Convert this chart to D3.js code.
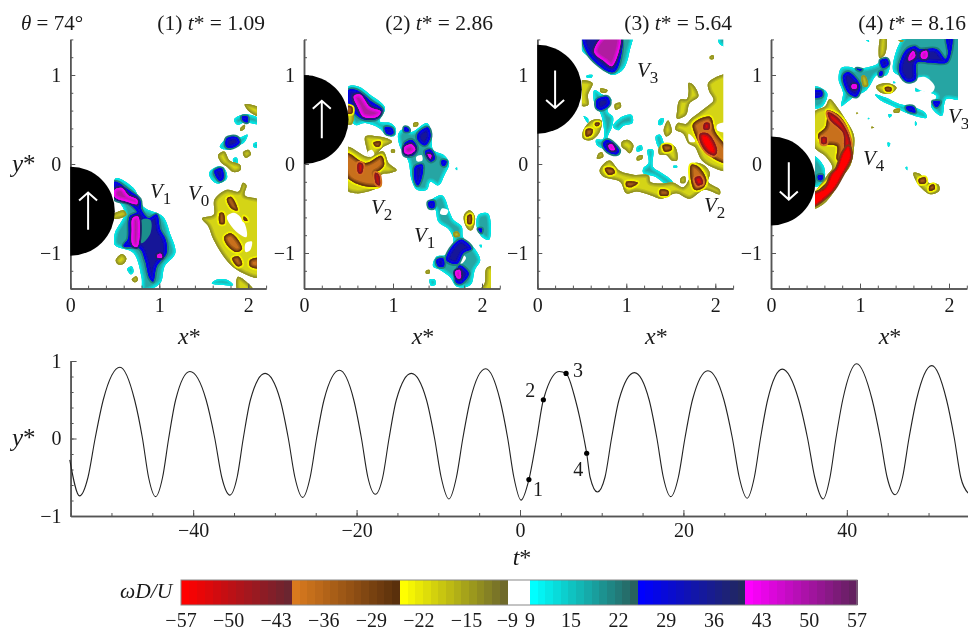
<!DOCTYPE html>
<html>
<head>
<meta charset="utf-8">
<script src="https://cdn.jsdelivr.net/npm/d3@7"></script>
<style>
  html, body { margin: 0; background: #fff; }
  svg { display: block; }
  text { font-family: "Liberation Serif", serif; fill: #1a1a1a; }
  .domain { stroke: #555; stroke-width: 1.5; }
  .tick line { stroke: #555; stroke-width: 1; }
</style>
</head>
<body>
<svg id="chart" width="968" height="630"></svg>
<script>
// y*(t*) trace
const traceT = [-55.1,-53.9,-52.87,-52.0,-51.0,-48.96,-47.17,-46.2,-45.46,-44.6,-43.74,-43.0,-42.14,-40.4,-38.42,-37.35,-36.5,-35.5,-34.62,-33.87,-32.99,-31.2,-29.35,-28.35,-27.55,-26.6,-25.68,-24.9,-23.98,-22.1,-20.35,-19.4,-18.62,-17.7,-16.8,-16.03,-15.13,-13.3,-11.45,-10.45,-9.65,-8.7,-7.78,-7.0,-6.08,-4.2,-2.45,-1.5,-0.75,0.12,1.09,2.04,2.86,4.8,5.64,6.78,7.83,8.16,8.58,9.47,10.4,11.2,12.12,14.0,15.8,16.76,17.54,18.45,19.38,20.18,21.11,23.0,24.95,26.0,26.83,27.8,28.68,29.43,30.31,32.1,34.1,35.2,36.07,37.1,37.94,38.66,39.5,41.2,43.1,44.1,44.93,45.9,46.82,47.6,48.52,50.4,52.2,53.16,53.94,54.85];
const traceY = [-0.275,-0.74,-0.5,0,0.5,0.92,0.5,0,-0.5,-0.75,-0.5,0,0.5,0.865,0.5,0,-0.5,-0.73,-0.5,0,0.5,0.84,0.5,0,-0.5,-0.76,-0.5,0,0.5,0.88,0.5,0,-0.5,-0.72,-0.5,0,0.5,0.84,0.5,0,-0.5,-0.78,-0.5,0,0.5,0.90,0.5,0,-0.5,-0.795,-0.53,0,0.5,0.865,0.84,0.5,0,-0.19,-0.5,-0.69,-0.5,0,0.5,0.85,0.5,0,-0.5,-0.75,-0.5,0,0.5,0.875,0.5,0,-0.5,-0.77,-0.5,0,0.5,0.895,0.5,0,-0.5,-0.78,-0.5,0,0.5,0.965,0.5,0,-0.5,-0.725,-0.5,0,0.5,0.94,0.5,0,-0.5,-0.705];

const markT = [1.09, 2.86, 5.64, 8.16];
const markY = [-0.53, 0.5, 0.84, -0.19];
const markNames = ['1', '2', '3', '4'];
const markDirection = [1, 1, -1, -1];

const cbTicksNeg = [-57, -50, -43, -36, -29, -22, -15, -9];
const cbTicksPos = [9, 15, 22, 29, 36, 43, 50, 57];
const cbBandEdges = [-57, -40.7, -24.8, -9, 9, 24.8, 40.6, 57];
const cbBandNames = ['red', 'brown', 'olive', 'white', 'cyan', 'blue', 'magenta'];

// regions are closed outlines in (x*, y*), one array per colour band
const p1Cyan = [
  [[.51,-.16],[.71,-.27],[.82,-.48],[1.04,-.59],[1.12,-.78],[1.18,-1.0],[1.06,-1.15],[1.01,-1.34],[.82,-1.42],[.80,-1.27],[.71,-1.0],[.50,-.91],[.50,-.78],[.61,-.55],[.50,-.33]],
  [[.64,-1.18],[.69,-1.15],[.71,-1.21],[.68,-1.24]],
  [[1.84,.50],[1.96,.56],[2.12,.51],[2.12,.45],[1.96,.47],[1.88,.44]],
  [[1.68,.19],[1.79,.31],[1.91,.30],[1.99,.33],[1.96,.25],[1.87,.20],[1.76,.16]],
  [[2.06,.23],[2.12,.24],[2.12,.18],[2.06,.19]],
  [[1.83,.06],[1.87,.07],[1.88,.01],[1.84,0]],
  [[1.56,-.10],[1.65,-.03],[1.73,-.05],[1.76,-.16],[1.66,-.22],[1.59,-.18]],
  [[1.59,-1.34],[1.64,-1.30],[1.76,-1.30],[1.83,-1.36],[1.70,-1.36]]
];
const p1Blue = [
  [[.50,-.20],[.65,-.29],[.78,-.40],[.80,-.52],[.88,-.61],[.97,-.57],[1.01,-.74],[1.07,-.85],[1.08,-1.0],[.97,-1.15],[.93,-1.32],[.89,-1.28],[.84,-1.08],[.78,-.95],[.60,-.92],[.65,-.84],[.67,-.59],[.75,-.54],[.65,-.44],[.50,-.39]],
  [[1.76,.29],[1.87,.30],[1.90,.24],[1.80,.18],[1.75,.20]],
  [[1.62,-.08],[1.70,-.05],[1.72,-.16],[1.68,-.19]],
  [[1.93,.53],[1.99,.53],[1.99,.47],[1.94,.49]]
];
const p1Teal = [[[.80,-.63],[.90,-.63],[.90,-.78],[.80,-.89]]];
const p1Magenta = [
  [[.50,-.29],[.58,-.27],[.65,-.35],[.75,-.40],[.75,-.45],[.63,-.42],[.50,-.37]],
  [[.70,-.61],[.76,-.59],[.78,-.78],[.75,-.93],[.70,-.91],[.69,-.74]],
  [[.98,-1.02],[1.02,-1.01],[1.03,-1.05],[.98,-1.05]]
];
const p1Olive = [
  [[.48,-.57],[.60,-.52],[.63,-.57],[.56,-.61],[.48,-.61]],
  [[.51,-1.08],[.58,-1.01],[.63,-1.06],[.60,-1.12],[.54,-1.13]],
  [[.69,-1.30],[.74,-1.26],[.76,-1.30],[.73,-1.33]],
  [[1.96,.67],[2.12,.63],[2.12,.54],[2.01,.59]],
  [[1.91,.40],[1.96,.44],[1.96,.40],[1.91,.37]],
  [[1.66,.10],[1.73,.14],[1.79,.04],[1.91,-.01],[1.91,-.07],[1.83,-.09],[1.76,-.03],[1.70,.01]],
  [[1.94,.13],[2.0,.16],[2.03,.11],[1.97,.07]],
  [[1.48,-.61],[1.61,-.57],[1.62,-.40],[1.76,-.29],[1.89,-.31],[1.94,-.21],[1.98,-.24],[1.96,-.35],[2.14,-.42],[2.14,-1.27],[1.95,-1.23],[1.79,-1.12],[1.61,-.85],[1.55,-.70]],
  [[1.88,-1.27],[1.95,-1.30],[2.06,-1.42],[1.88,-1.42]]
];
const p1White = [
  [[1.76,-.59],[1.85,-.55],[1.96,-.67],[1.98,-.82],[1.89,-.78],[1.79,-.67]],
  [[1.97,-.89],[2.04,-.87],[2.02,-.97],[1.97,-.99]],
  [[.90,-.85],[.96,-.82],[1.01,-.86],[.94,-.89]]
];
const p1Brown = [
  [[1.76,-.39],[1.81,-.37],[1.88,-.52],[1.81,-.50]],
  [[1.68,-.55],[1.72,-.55],[1.73,-.67],[1.68,-.67]],
  [[1.73,-.82],[1.81,-.78],[1.93,-.95],[1.87,-.99],[1.76,-.91]],
  [[1.82,-1.06],[1.89,-1.04],[1.93,-1.13],[1.88,-1.15]],
  [[2.02,-1.08],[2.12,-1.06],[2.12,-1.17],[2.02,-1.15]],
  [[1.95,-.59],[1.98,-.61],[1.99,-.64],[1.95,-.63]]
];
const p1Red = [];

const p2Cyan = [
  [[.50,.87],[.61,.87],[.74,.78],[.91,.63],[.85,.48],[.97,.46],[1.03,.40],[1.02,.32],[.93,.32],[.85,.40],[.69,.46],[.57,.44],[.50,.68]],
  [[1.06,.34],[1.13,.40],[1.21,.36],[1.38,.46],[1.43,.36],[1.45,.16],[1.57,.10],[1.63,.01],[1.58,-.12],[1.51,-.24],[1.42,-.20],[1.38,-.29],[1.27,-.29],[1.21,-.18],[1.17,.04],[1.08,.19]],
  [[1.70,-.05],[1.72,-.04],[1.72,-.07]],
  [[1.38,-.46],[1.55,-.35],[1.64,-.55],[1.68,-.63],[1.77,-.70],[1.79,-.83],[1.90,-.93],[1.98,-1.08],[1.92,-1.19],[1.87,-1.36],[1.72,-1.38],[1.64,-1.27],[1.53,-1.19],[1.45,-1.15],[1.49,-1.04],[1.60,-1.02],[1.68,-.87],[1.63,-.74],[1.51,-.65],[1.47,-.50]],
  [[1.96,-.57],[2.07,-.56],[2.08,-.85],[2.0,-.82],[1.94,-.70]],
  [[1.41,-1.30],[1.47,-1.30],[1.48,-1.35],[1.43,-1.37]],
  [[1.97,-.91],[2.0,-.91],[1.99,-.94]]
];
const p2Blue = [
  [[.50,.83],[.59,.83],[.76,.70],[.88,.61],[.82,.51],[.65,.51],[.50,.68]],
  [[.91,.41],[.99,.40],[1.0,.34],[.93,.34]],
  [[1.13,.41],[1.17,.40],[1.18,.37],[1.13,.37]],
  [[1.28,.34],[1.39,.41],[1.42,.31],[1.36,.21],[1.28,.27]],
  [[1.13,.23],[1.21,.27],[1.27,.18],[1.23,.10],[1.13,.10]],
  [[1.36,.14],[1.42,.16],[1.47,.06],[1.42,.03]],
  [[1.25,-.03],[1.33,-.01],[1.32,-.16],[1.28,-.24],[1.25,-.2]],
  [[1.55,.04],[1.60,.03],[1.58,-.02],[1.55,-.01]],
  [[1.40,-.43],[1.46,-.42],[1.46,-.49],[1.41,-.49]],
  [[1.68,-.91],[1.77,-.85],[1.88,-.95],[1.79,-1.0],[1.72,-1.12],[1.60,-1.08]],
  [[1.49,-1.08],[1.56,-1.06],[1.57,-1.15],[1.51,-1.15]],
  [[1.71,-1.23],[1.75,-1.14],[1.85,-1.23],[1.77,-1.34],[1.71,-1.33]],
  [[1.96,-.73],[2.0,-.73],[1.99,-.77]]
];
const p2Teal = [];
const p2Magenta = [
  [[.56,.76],[.63,.78],[.74,.64],[.86,.59],[.82,.53],[.67,.53],[.61,.63]],
  [[1.13,.19],[1.21,.22],[1.25,.16],[1.18,.11],[1.13,.13]],
  [[1.39,.11],[1.43,.10],[1.42,.06]],
  [[1.70,-1.21],[1.75,-1.19],[1.76,-1.28],[1.72,-1.28]]
];
const p2Olive = [
  [[.48,.67],[.55,.66],[.54,.45],[.48,.45]],
  [[1.23,.46],[1.28,.47],[1.28,.43],[1.23,.42]],
  [[.98,.16],[1.02,.16],[1.02,.13],[.98,.13]],
  [[.69,.31],[.84,.31],[.93,.29],[.99,.25],[.89,.19],[.80,.10],[.74,.08],[.70,.19]],
  [[.48,.19],[.72,.08],[.89,.14],[.95,.01],[1.04,-.07],[.97,-.10],[.87,-.12],[.85,-.25],[.78,-.29],[.59,-.33],[.48,-.29]],
  [[1.80,-.57],[1.86,-.52],[1.92,-.59],[1.89,-.74],[1.85,-.74],[1.80,-.65]],
  [[1.68,-.77],[1.73,-.76],[1.75,-.81],[1.69,-.82]],
  [[1.37,-1.20],[1.41,-1.19],[1.41,-1.23],[1.37,-1.23]],
  [[2.03,-1.34],[2.05,-1.17],[2.12,-1.15],[2.12,-1.42],[1.98,-1.42]]
];
const p2White = [
  [[1.26,.08],[1.32,.10],[1.33,.04],[1.27,.03]],
  [[1.68,-1.04],[1.73,-1.0],[1.82,-1.05],[1.77,-1.12],[1.72,-1.10]],
  [[1.55,-.50],[1.62,-.52],[1.60,-.57],[1.53,-.56]],
  [[.71,.13],[.76,.16],[.79,.11],[.74,.08]]
];
const p2Brown = [
  [[.48,.12],[.69,.01],[.87,.09],[.90,-.01],[.85,-.07],[.80,-.10],[.85,-.24],[.69,-.25],[.48,-.14]],
  [[.78,.24],[.86,.25],[.85,.20],[.80,.20]],
  [[1.84,-.58],[1.88,-.57],[1.88,-.67],[1.84,-.67]],
  [[.48,.65],[.54,.64],[.54,.57],[.48,.57]]
];
const p2Red = [
  [[.61,.01],[.66,0],[.65,-.10],[.61,-.10]],
  [[.80,-.10],[.84,-.12],[.85,-.24],[.81,-.22]]
];

const p3Cyan = [
  [[.50,1.45],[1.06,1.45],[1.04,1.28],[.97,1.07],[.85,1.0],[.74,1.06],[.57,1.21],[.50,1.28]],
  [[2.05,1.45],[2.12,1.45],[2.12,1.32],[2.04,1.36]],
  [[.55,.99],[.62,1.0],[.61,.97],[.56,.97]],
  [[.64,.83],[.73,.78],[.83,.73],[.79,.59],[.85,.53],[.84,.42],[.79,.27],[.93,.16],[.92,.10],[.80,.12],[.74,.17],[.67,.21],[.66,.27],[.74,.28],[.74,.46],[.70,.59],[.65,.65]],
  [[.95,.53],[1.06,.55],[1.07,.46],[.97,.43],[.91,.38],[.85,.42]],
  [[.52,.54],[.57,.51],[.57,.46]],
  [[1.37,.50],[1.42,.51],[1.40,.44],[1.36,.44]],
  [[1.33,.31],[1.38,.33],[1.42,.19],[1.37,.18]],
  [[1.12,.19],[1.17,.21],[1.18,.16],[1.12,.14]],
  [[1.24,.16],[1.30,.16],[1.30,-.03],[1.38,-.09],[1.52,-.20],[1.49,-.25],[1.32,-.14],[1.19,-.10],[1.19,-.05],[1.25,.01]],
  [[1.53,-.02],[1.57,-.02],[1.57,-.04],[1.53,-.04]]
];
const p3Blue = [
  [[.52,1.45],[.93,1.45],[.93,1.17],[.87,1.04],[.80,1.04],[.57,1.24]],
  [[.67,.72],[.79,.75],[.81,.67],[.72,.61],[.67,.63]],
  [[.74,.23],[.79,.27],[.92,.15],[.89,.11],[.79,.14]]
];
const p3Teal = [];
const p3Magenta = [
  [[.64,1.26],[.76,1.45],[.93,1.45],[.84,1.10],[.76,1.15]],
  [[.80,.21],[.84,.22],[.87,.16],[.82,.16]]
];
const p3Olive = [
  [[.48,.93],[.62,.91],[.57,.78],[.57,.66],[.48,.66]],
  [[.71,.85],[.79,.83],[.77,.80],[.71,.81]],
  [[.87,.67],[.93,.69],[.94,.64],[.88,.61]],
  [[1.94,1.21],[1.98,1.22],[1.98,1.18],[1.94,1.18]],
  [[.51,.36],[.61,.49],[.72,.49],[.70,.36],[.61,.27],[.52,.28]],
  [[.69,.12],[.73,.13],[.74,.08],[.67,.06]],
  [[.95,.25],[1.02,.27],[1.08,.21],[1.04,.12],[.99,.16],[.95,.19]],
  [[1.42,.38],[1.47,.49],[1.51,.36],[1.45,.31]],
  [[1.37,.19],[1.45,.23],[1.55,.19],[1.57,.04],[1.51,.04],[1.45,.10],[1.37,.11]],
  [[1.12,.08],[1.18,.10],[1.18,.06],[1.12,.04]],
  [[1.61,-.16],[1.66,-.14],[1.66,-.21],[1.61,-.21]],
  [[.70,-.07],[.81,.04],[.93,-.08],[1.08,-.12],[1.25,-.13],[1.27,-.20],[1.38,-.22],[1.53,-.21],[1.64,-.26],[1.72,-.14],[1.77,.01],[1.87,-.01],[1.94,-.10],[1.92,-.2],[2.05,-.29],[2.05,-.34],[1.88,-.29],[1.71,-.39],[1.56,-.33],[1.40,-.39],[1.27,-.35],[1.12,-.31],[1.0,-.33],[.93,-.20],[.74,-.14]],
  [[1.70,.91],[1.75,.89],[1.81,.76],[1.71,.68],[1.67,.55],[1.57,.51],[1.57,.59],[1.60,.72],[1.68,.73],[1.70,.81]],
  [[1.92,.91],[2.07,1.0],[2.14,1.0],[2.14,-.07],[2.0,-.05],[1.85,.04],[1.77,.19],[1.70,.23],[1.64,.34],[1.55,.39],[1.58,.46],[1.67,.45],[1.73,.51],[1.90,.64],[1.98,.72],[1.93,.82]]
];
const p3White = [
  [[1.70,.34],[1.77,.27],[1.77,.25],[1.71,.25]],
  [[2.02,.44],[2.12,.46],[2.12,.36],[2.02,.38]]
];
const p3Brown = [
  [[1.75,.45],[1.94,.53],[2.0,.36],[2.14,.16],[2.14,.01],[2.02,.04],[1.87,.16],[1.77,.34]],
  [[1.73,-.01],[1.81,-.03],[1.90,-.18],[1.86,-.27],[1.77,-.29],[1.73,-.20]],
  [[.76,-.05],[.85,-.05],[.87,-.10],[.80,-.12]],
  [[1.0,-.20],[1.13,-.21],[1.06,-.26],[1.0,-.25]],
  [[1.38,-.29],[1.47,-.30],[1.47,-.35],[1.38,-.35]],
  [[1.41,.21],[1.50,.21],[1.51,.16],[1.43,.14]],
  [[.55,.39],[.62,.39],[.61,.33],[.55,.31]],
  [[.65,.46],[.70,.46],[.69,.43],[.65,.43]]
];
const p3Red = [
  [[1.88,.46],[1.93,.46],[1.93,.39],[1.87,.39]],
  [[1.83,.34],[1.92,.34],[2.02,.16],[2.0,.10],[1.92,.12],[1.83,.25]],
  [[1.77,-.16],[1.83,-.14],[1.86,-.22],[1.80,-.24]]
];

const p4Cyan = [
  [[.79,1.08],[.89,1.09],[.96,1.07],[1.19,1.12],[1.26,1.19],[1.33,1.14],[1.30,1.0],[1.19,1.0],[1.11,.88],[1.06,.82],[.94,.76],[.85,.69],[.79,.65],[.81,.80],[.76,.95]],
  [[1.37,1.06],[1.52,1.45],[2.14,1.45],[2.14,.73],[1.97,.73],[1.92,.54],[1.80,.65],[1.86,.76],[1.71,.82],[1.62,.82],[1.64,.88],[1.75,.96],[1.57,.96],[1.41,1.01]],
  [[1.17,.78],[1.28,.75],[1.45,.67],[1.56,.65],[1.73,.58],[1.75,.52],[1.56,.56],[1.37,.65],[1.24,.71]],
  [[.48,.87],[.63,.80],[.58,.65],[.48,.63]],
  [[.48,.09],[.59,-.02],[.60,-.17],[.53,-.25],[.48,-.25]],
  [[1.07,1.39],[1.10,1.39],[1.10,1.37]],
  [[1.31,.24],[1.34,.23],[1.32,.19]],
  [[1.51,-.04],[1.53,-.03],[1.53,-.07]],
  [[1.62,.48],[1.64,.45],[1.62,.43]],
  [[1.09,.52],[1.11,.51],[1.09,.50]],
  [[1.32,.56],[1.36,.55],[1.33,.52]],
  [[1.38,.93],[1.40,.91],[1.37,.91]]
];
const p4Blue = [
  [[.81,.99],[.87,1.03],[1.0,.88],[.96,.76],[.87,.80]],
  [[1.23,1.16],[1.30,1.18],[1.32,1.12],[1.26,1.08]],
  [[1.22,1.03],[1.25,1.04],[1.25,1.0],[1.22,.99]],
  [[.96,1.07],[1.02,1.06],[1.0,1.05]],
  [[1.44,1.06],[1.52,1.28],[1.62,1.32],[1.67,1.29],[1.86,1.29],[1.96,1.18],[1.99,1.24],[1.97,1.45],[2.03,1.45],[2.01,1.21],[1.97,1.14],[1.79,1.14],[1.64,1.14],[1.62,.95],[1.52,.93]],
  [[1.52,.64],[1.60,.64],[1.62,.58],[1.54,.60]],
  [[1.82,.70],[1.90,.70],[1.86,.64]],
  [[.48,.82],[.57,.82],[.57,.76],[.48,.75]],
  [[.53,-.13],[.58,-.13],[.57,-.18],[.53,-.17]]
];
const p4Teal = [];
const p4Magenta = [
  [[1.55,1.21],[1.60,1.27],[1.62,1.21],[1.55,1.16]],
  [[1.69,1.25],[1.75,1.27],[1.75,1.19],[1.69,1.19]],
  [[.91,.89],[.96,.89],[.96,.85],[.91,.85]]
];
const p4Olive = [
  [[1.21,1.23],[1.24,1.45],[1.29,1.45],[1.28,1.23],[1.22,1.19]],
  [[1.43,1.39],[1.49,1.39],[1.47,1.37]],
  [[1.02,.99],[1.06,.99],[1.09,.88],[1.04,.87]],
  [[1.18,.87],[1.30,.91],[1.41,.86],[1.36,.80],[1.24,.80]],
  [[1.66,.90],[1.75,.93],[1.78,.88],[1.70,.87]],
  [[1.38,.61],[1.45,.62],[1.44,.58],[1.38,.58]],
  [[.96,.58],[.98,.57],[.96,.56]],
  [[1.13,.42],[1.16,.41],[1.13,.40]],
  [[1.60,-.10],[1.67,-.11],[1.77,-.21],[1.88,-.23],[1.89,-.30],[1.79,-.34],[1.69,-.27],[1.63,-.19]],
  [[.48,.58],[.61,.65],[.66,.73],[.75,.63],[.85,.48],[.93,.33],[.93,.16],[.89,-.02],[.78,-.17],[.70,-.32],[.59,-.45],[.48,-.50],[.48,-.36],[.63,-.13],[.69,-.04],[.61,.09],[.48,.20]]
];
const p4White = [[[1.57,.92],[1.72,.98],[1.84,.87],[1.80,.80],[1.62,.86]]];
const p4Brown = [
  [[.63,.60],[.77,.54],[.88,.35],[.89,.18],[.81,.01],[.74,.05],[.74,.20],[.63,.22],[.55,.26],[.53,.33],[.61,.41],[.63,.52]],
  [[.89,.18],[.88,.09],[.76,-.13],[.64,-.28],[.48,-.42],[.48,-.36],[.66,-.17],[.77,.01],[.81,.09]],
  [[1.66,-.17],[1.73,-.15],[1.74,-.21],[1.67,-.22]],
  [[1.78,-.25],[1.83,-.23],[1.84,-.28],[1.78,-.30]],
  [[1.28,.86],[1.35,.86],[1.35,.82],[1.29,.82]]
];
const p4Red = [
  [[.64,.58],[.75,.52],[.87,.33],[.89,.18],[.83,.18],[.81,.35],[.66,.50]],
  [[.57,.30],[.62,.30],[.62,.23],[.57,.23]]
];
const p4Scarlet = [
  [[.46,-.36],[.61,-.27],[.68,-.12],[.74,-.05],[.81,.13],[.87,.20],[.90,.09],[.80,-.12],[.69,-.30],[.46,-.47]]
];

const panelFields = [
  { cyan: p1Cyan, olive: p1Olive, white: p1White, blue: p1Blue, teal: p1Teal, brown: p1Brown, magenta: p1Magenta, red: p1Red, scarlet: [] },
  { cyan: p2Cyan, olive: p2Olive, white: p2White, blue: p2Blue, teal: p2Teal, brown: p2Brown, magenta: p2Magenta, red: p2Red, scarlet: [] },
  { cyan: p3Cyan, olive: p3Olive, white: p3White, blue: p3Blue, teal: p3Teal, brown: p3Brown, magenta: p3Magenta, red: p3Red, scarlet: [] },
  { cyan: p4Cyan, olive: p4Olive, white: p4White, blue: p4Blue, teal: p4Teal, brown: p4Brown, magenta: p4Magenta, red: p4Red, scarlet: p4Scarlet }
];
const drawOrder = ['cyan', 'olive', 'white', 'blue', 'teal', 'brown', 'magenta', 'red', 'scarlet'];

// field colours: edge of a region first, inner colour second
const fieldRamps = {
  cyan: ['#00f0f0', '#27a5a3'],
  blue: ['#0000ff', '#141498'],
  magenta: ['#ff00ff', '#b01ca0'],
  olive: ['#8a8a28', '#d4d418'],
  brown: ['#5a300c', '#c8701c'],
  red: ['#701f25', '#ff0000'],
  scarlet: ['#a01818', '#ff0000']
};
// the band just below a region shows as a thin ring round it
const fieldHalo = { blue: '#1f7f7c', magenta: '#20206a', brown: '#f2f200', red: '#d27020', scarlet: '#7a3a18' };
// colour bar, left end to right end of each band
const barRamps = {
  red: ['#ff0000', '#6b2530'],
  brown: ['#d97a1e', '#5a300c'],
  olive: ['#ffff00', '#6f6a2a'],
  cyan: ['#00ffff', '#28625f'],
  blue: ['#0000ff', '#22285f'],
  magenta: ['#ff00ff', '#642060']
};
const serif = 'Liberation Serif';

const svg = d3.select('#chart');
const defs = svg.append('defs');
defs.append('filter').attr('id', 'soft')
  .attr('x', '-5%').attr('y', '-5%').attr('width', '110%').attr('height', '110%')
  .append('feGaussianBlur').attr('stdDeviation', 0.7);

// top row
const panelLeft = [70.3, 304, 537.3, 771];
const titleRight = [265, 493, 732, 966];
const unit = 89;
const yPanel = d3.scaleLinear().domain([-1.4, 1.4]).range([288.6, 39.4]);
let clipId = 0;

function minorAxis(axis, scale, values) {
  return axis(scale).tickValues(values).tickSize(-3).tickSizeOuter(0).tickFormat('');
}

function drawField(g, field, x, y) {
  const outline = d3.line().x(d => x(d[0])).y(d => y(d[1])).curve(d3.curveCatmullRomClosed.alpha(0.5));

  const winId = `win${clipId++}`;
  defs.append('clipPath').attr('id', winId).append('rect')
    .attr('x', x(0.5)).attr('y', y(1.4))
    .attr('width', x(2.09) - x(0.5)).attr('height', y(-1.4) - y(1.4));

  const layer = g.append('g').attr('clip-path', `url(#${winId})`)
    .append('g').attr('filter', 'url(#soft)');

  drawOrder.forEach(band => {
    field[band].forEach(points => {
      const d = outline(points);
      if (band === 'white' || band === 'teal') {
        layer.append('path').attr('d', d).attr('fill', band === 'white' ? '#fff' : '#1f8f8c');
        return;
      }
      if (fieldHalo[band]) {
        layer.append('path').attr('d', d).attr('fill', 'none')
          .attr('stroke', fieldHalo[band]).attr('stroke-width', 4);
      }
      const ramp = d3.interpolateRgb(fieldRamps[band][0], fieldRamps[band][1]);
      const id = `reg${clipId++}`;
      defs.append('clipPath').attr('id', id).append('path').attr('d', d);
      const blob = layer.append('g').attr('clip-path', `url(#${id})`);
      blob.append('path').attr('d', d).attr('fill', ramp(1));
      const edge = band === 'scarlet' ? 0.35 : 1;
      [[7, 0.7], [4.5, 0.4], [2.4, 0.1]].forEach(([w, t]) => {
        blob.append('path').attr('d', d).attr('fill', 'none')
          .attr('stroke', ramp(t)).attr('stroke-width', w * edge);
      });
    });
  });
}

function drawCylinder(g, x, y, cy, dir) {
  const r = x(0.5) - x(0);
  g.append('path')
    .attr('transform', `translate(${x(0)},${y(cy)})`)
    .attr('d', d3.arc()({ innerRadius: 0, outerRadius: r, startAngle: 0, endAngle: Math.PI }))
    .attr('fill', '#000');
  // dir 1 = moving up
  const tip = y(cy + dir * 0.21), tail = y(cy - dir * 0.21);
  g.append('path')
    .attr('d', `M${x(0.2)},${tail}L${x(0.2)},${tip}M${x(0.2) - 9},${tip + dir * 8}L${x(0.2)},${tip}L${x(0.2) + 9},${tip + dir * 8}`)
    .attr('fill', 'none').attr('stroke', '#fff').attr('stroke-width', 2);
}

panelFields.forEach((field, i) => {
  const x = d3.scaleLinear().domain([0, 2.2]).range([panelLeft[i], panelLeft[i] + 2.2 * unit]);
  const g = svg.append('g');

  drawField(g, field, x, yPanel);

  g.append('g').attr('transform', `translate(0,${yPanel(-1.4)})`)
    .call(minorAxis(d3.axisBottom, x, d3.range(0, 2.21, 0.2)));
  g.append('g').attr('transform', `translate(${x(0)},0)`)
    .call(minorAxis(d3.axisLeft, yPanel, d3.range(-1.4, 1.41, 0.2)));

  const xAxis = g.append('g').attr('transform', `translate(0,${yPanel(-1.4)})`)
    .call(d3.axisBottom(x).tickValues([0, 1, 2]).tickSize(-5).tickSizeOuter(0).tickPadding(9).tickFormat(d3.format('d')));
  const yAxis = g.append('g').attr('transform', `translate(${x(0)},0)`)
    .call(d3.axisLeft(yPanel).tickValues([-1, 0, 1]).tickSize(-5).tickSizeOuter(0).tickPadding(9).tickFormat(d3.format('d')));
  [xAxis, yAxis].forEach(a => {
    a.selectAll('text').style('font-size', '20px').style('font-family', serif).attr('fill', '#1a1a1a');
    a.attr('font-size', null).attr('font-family', null);
  });

  drawCylinder(g, x, yPanel, markY[i], markDirection[i]);

  // title
  const title = g.append('text').attr('x', titleRight[i]).attr('y', 30)
    .attr('text-anchor', 'end').style('font-size', '21.5px');
  title.append('tspan').text(`(${markNames[i]}) `);
  title.append('tspan').style('font-style', 'italic').text('t');
  title.append('tspan').text(`* = ${markT[i].toFixed(2)}`);

  const xLabel = g.append('text').attr('x', panelLeft[i] + 119).attr('y', 344)
    .attr('text-anchor', 'middle').style('font-size', '24px');
  xLabel.append('tspan').style('font-style', 'italic').text('x');
  xLabel.append('tspan').text('*');
});

function vortexLabel(x, y, sub) {
  const t = svg.append('text').attr('x', x).attr('y', y).style('font-size', '21px').style('font-style', 'italic');
  t.append('tspan').text('V');
  t.append('tspan').attr('dy', 6).style('font-size', '17px').style('font-style', 'normal').text(sub);
}
vortexLabel(150, 198, '1');
vortexLabel(188, 200, '0');
vortexLabel(371, 214, '2');
vortexLabel(414, 242, '1');
vortexLabel(637, 77, '3');
vortexLabel(704, 212, '2');
vortexLabel(863, 165, '4');
vortexLabel(948, 123, '3');

const theta = svg.append('text').attr('x', 21).attr('y', 30).style('font-size', '21px');
theta.append('tspan').style('font-style', 'italic').text('θ');
theta.append('tspan').text(' = 74°');

function yStar(x, y) {
  const t = svg.append('text').attr('x', x).attr('y', y).style('font-size', '25px');
  t.append('tspan').style('font-style', 'italic').text('y');
  t.append('tspan').text('*');
}
yStar(12, 172);
yStar(12, 446);

// lower plot
const xTime = d3.scaleLinear().domain([-55, 55]).range([70.6, 969.4]);
const yTime = d3.scaleLinear().domain([-1, 1]).range([516, 361]);
const lower = svg.append('g');

lower.append('g').attr('transform', `translate(0,${yTime(-1)})`)
  .call(minorAxis(d3.axisBottom, xTime, d3.range(-55, 56, 5)));
lower.append('g').attr('transform', `translate(${xTime(-55)},0)`)
  .call(minorAxis(d3.axisLeft, yTime, d3.range(-1, 1.01, 0.2)));

const tAxis = lower.append('g').attr('transform', `translate(0,${yTime(-1)})`)
  .call(d3.axisBottom(xTime).tickValues([-40, -20, 0, 20, 40]).tickSize(-6).tickSizeOuter(0).tickPadding(7).tickFormat(d3.format('d')));
const hAxis = lower.append('g').attr('transform', `translate(${xTime(-55)},0)`)
  .call(d3.axisLeft(yTime).tickValues([-1, 0, 1]).tickSize(-6).tickSizeOuter(0).tickPadding(9).tickFormat(d3.format('d')));
[tAxis, hAxis].forEach(a => {
  a.selectAll('text').style('font-size', '20px').style('font-family', serif).attr('fill', '#1a1a1a');
  a.attr('font-size', null).attr('font-family', null);
});

const trace = d3.line()
  .x(d => xTime(d))
  .y((d, i) => yTime(traceY[i]))
  .curve(d3.curveMonotoneX);
lower.append('path')
  .attr('d', trace(traceT))
  .attr('fill', 'none').attr('stroke', '#222').attr('stroke-width', 1.1);

lower.selectAll('circle')
  .data(markT)
  .join('circle')
  .attr('cx', d => xTime(d))
  .attr('cy', (d, i) => yTime(markY[i]))
  .attr('r', 2.6)
  .attr('fill', '#000');

// mark numbers sit around the dots
const markDx = [9, -13, 12, -8.5];
const markDy = [16.5, -3, 3.6, 23];
markNames.forEach((name, i) => {
  lower.append('text')
    .attr('x', xTime(markT[i]) + markDx[i]).attr('y', yTime(markY[i]) + markDy[i])
    .attr('text-anchor', 'middle').style('font-size', '20px').text(name);
});

const tLabel = lower.append('text').attr('x', 522).attr('y', 565)
  .attr('text-anchor', 'middle').style('font-size', '24px');
tLabel.append('tspan').style('font-style', 'italic').text('t');
tLabel.append('tspan').text('*');

// colour bar
const xBar = d3.scaleLinear().domain([-57, -9, 9, 57]).range([181, 507.3, 530, 857]);
const barTop = 580, barBottom = 605;
const legend = svg.append('g');

d3.pairs(cbBandEdges).forEach(([from, to], b) => {
  const band = cbBandNames[b];
  if (band === 'white') return;
  const ramp = d3.interpolateRgb(barRamps[band][0], barRamps[band][1]);
  legend.append('g').attr('shape-rendering', 'crispEdges').selectAll('rect')
    .data(d3.range(14))
    .join('rect')
    .attr('x', k => xBar(from + (to - from) * k / 14))
    .attr('y', barTop)
    .attr('width', (to - from) / 14 * 6.8 + 0.6)
    .attr('height', barBottom - barTop)
    .attr('fill', k => ramp(k / 13));
});

legend.append('rect')
  .attr('x', xBar(-57)).attr('y', barTop)
  .attr('width', xBar(57) - xBar(-57)).attr('height', barBottom - barTop)
  .attr('fill', 'none').attr('stroke', '#888').attr('stroke-width', 1);

legend.selectAll('text.cb')
  .data(cbTicksNeg.concat(cbTicksPos))
  .join('text')
  .attr('class', 'cb')
  .attr('x', d => xBar(d))
  .attr('y', 627)
  .attr('text-anchor', 'middle')
  .style('font-size', '20px')
  .text(d => d3.format('d')(d));

legend.append('text')
  .attr('x', 120).attr('y', 598)
  .style('font-size', '21.5px').style('font-style', 'italic')
  .text('ωD/U');
</script>
</body>
</html>
